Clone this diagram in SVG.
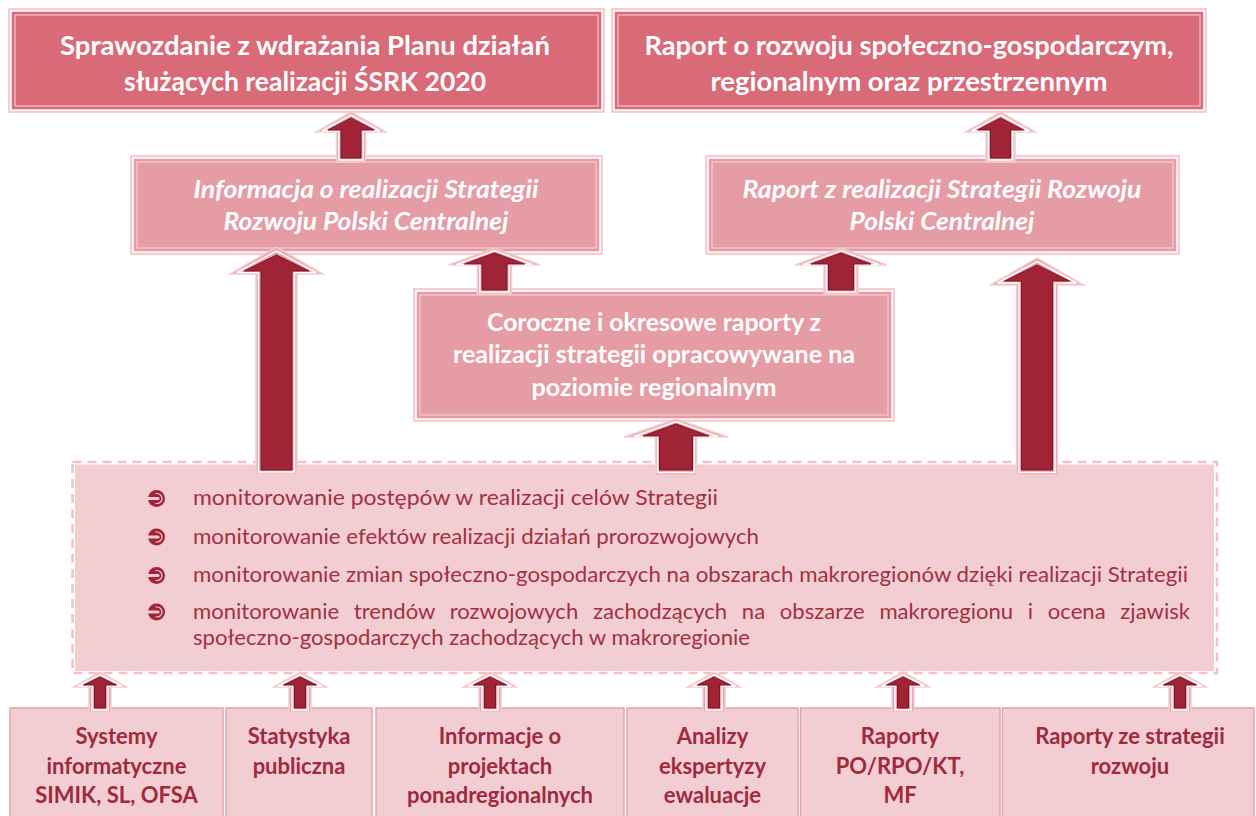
<svg xmlns="http://www.w3.org/2000/svg" xmlns:xlink="http://www.w3.org/1999/xlink" width="1256" height="816" viewBox="0 0 1256 816">
<style>
.fr{fill:#F5CDD2}
.tb{fill:#D96B79;stroke:#fff;stroke-width:1.5}
.mb{fill:#E59CA5;stroke:#fff;stroke-width:1.5}
.in{fill:none;stroke:#F7D5D9;stroke-width:1}
.bb{fill:#F2CED3;stroke:#E6A2AB;stroke-width:1.5}
.o{fill:#E9A3AC;stroke:#F4CDD2;stroke-width:1.5}
.m{fill:none;stroke:#fff;stroke-width:1.5}
.d{fill:#A02436;stroke:#7B1526;stroke-width:1}
text{font-family:Lato,"Open Sans","Liberation Sans",sans-serif}
.t1{font-size:27px;font-weight:bold;fill:#fff;text-anchor:middle}
.t2{font-size:24px;font-weight:bold;font-style:italic;fill:#fff;text-anchor:middle}
.t3{font-size:24px;font-weight:bold;fill:#fff;text-anchor:middle}
.bl{font-size:22px;fill:#A3303F}
.bt{font-size:22px;font-weight:bold;fill:#A02A3B;text-anchor:middle}
</style>
<defs>
<g id="sa">
<polygon class="o" points="0,672 26.5,687 11,687 11,712 -11,712 -11,687 -26.5,687"/>
<polygon class="m" points="0,674.5 21.5,686 8,686 8,710 -8,710 -8,686 -21.5,686"/>
<polygon class="d" points="0,677 16.5,685 5.5,685 5.5,708 -5.5,708 -5.5,685 -16.5,685"/>
</g>
<g id="bul">
<circle cx="0" cy="0" r="8.5" fill="#A02436"/>
<path d="M-9,-1.6 H1.5 A1.6 1.6 0 0 1 1.5,1.6 H-9 Z" fill="#F2CED3"/>
<path d="M-1,-5 H0.5 A5 5 0 0 1 0.5,5 H-1" fill="none" stroke="#F2CED3" stroke-width="1.2"/>
</g>
</defs>
<rect width="1256" height="816" fill="#fff"/>

<g id="node-sprawozdanie">
<rect class="fr" x="8" y="8" width="597" height="105"/>
<rect class="tb" x="11" y="11" width="591" height="99"/>
<rect class="in" x="15" y="15" width="583" height="91"/>
<text class="t1" x="305" y="55" textLength="490" lengthAdjust="spacingAndGlyphs">Sprawozdanie z wdrażania Planu działań</text>
<text class="t1" x="305" y="91" textLength="362" lengthAdjust="spacingAndGlyphs">służących realizacji ŚSRK 2020</text>
</g>

<g id="node-raport-rozwoj">
<rect class="fr" x="611" y="8" width="596" height="105"/>
<rect class="tb" x="614" y="11" width="590" height="99"/>
<rect class="in" x="618" y="15" width="582" height="91"/>
<text class="t1" x="909" y="55" textLength="529" lengthAdjust="spacingAndGlyphs">Raport o rozwoju społeczno-gospodarczym,</text>
<text class="t1" x="909" y="91" textLength="397" lengthAdjust="spacingAndGlyphs">regionalnym oraz przestrzennym</text>
</g>

<g id="node-informacja">
<rect class="fr" x="130" y="155" width="473" height="100"/>
<rect class="mb" x="133" y="158" width="467" height="94"/>
<rect class="in" x="137" y="162" width="459" height="86"/>
<text class="t2" x="366" y="198" textLength="345" lengthAdjust="spacingAndGlyphs">Informacja o realizacji Strategii</text>
<text class="t2" x="366" y="230" textLength="285" lengthAdjust="spacingAndGlyphs">Rozwoju Polski Centralnej</text>
</g>

<g id="node-raport-realizacja">
<rect class="fr" x="705" y="155" width="475" height="100"/>
<rect class="mb" x="708" y="158" width="469" height="94"/>
<rect class="in" x="712" y="162" width="461" height="86"/>
<text class="t2" x="942" y="198" textLength="399" lengthAdjust="spacingAndGlyphs">Raport z realizacji Strategii Rozwoju</text>
<text class="t2" x="942" y="230" textLength="185" lengthAdjust="spacingAndGlyphs">Polski Centralnej</text>
</g>

<g id="node-coroczne">
<rect class="fr" x="413" y="288" width="482" height="134"/>
<rect class="mb" x="416" y="291" width="476" height="128"/>
<rect class="in" x="420" y="295" width="468" height="120"/>
<text class="t3" x="654" y="331" textLength="334" lengthAdjust="spacingAndGlyphs">Coroczne i okresowe raporty z</text>
<text class="t3" x="654" y="363" textLength="402" lengthAdjust="spacingAndGlyphs">realizacji strategii opracowywane na</text>
<text class="t3" x="654" y="396" textLength="245" lengthAdjust="spacingAndGlyphs">poziomie regionalnym</text>
</g>

<g id="node-monitorowanie">
<rect x="75" y="464.5" width="1139" height="206.5" fill="#F2CED3"/>
<rect x="72.5" y="462" width="1144.5" height="211" fill="none" stroke="#F0C3C9" stroke-width="2.5" stroke-dasharray="9 6"/>
<use href="#bul" x="156.5" y="498.5"/>
<use href="#bul" x="156.5" y="537"/>
<use href="#bul" x="156.5" y="575.5"/>
<use href="#bul" x="156.5" y="612"/>
<text class="bl" x="193" y="505" textLength="525" lengthAdjust="spacingAndGlyphs">monitorowanie postępów w realizacji celów Strategii</text>
<text class="bl" x="193" y="543.5" textLength="566" lengthAdjust="spacingAndGlyphs">monitorowanie efektów realizacji działań prorozwojowych</text>
<text class="bl" x="193" y="582" textLength="995" lengthAdjust="spacingAndGlyphs">monitorowanie zmian społeczno-gospodarczych na obszarach makroregionów dzięki realizacji Strategii</text>
<text class="bl" x="193" y="618.5" textLength="997" lengthAdjust="spacingAndGlyphs" style="word-spacing:9px">monitorowanie trendów rozwojowych zachodzących na obszarze makroregionu i ocena zjawisk</text>
<text class="bl" x="193" y="645" textLength="557" lengthAdjust="spacingAndGlyphs">społeczno-gospodarczych zachodzących w makroregionie</text>
</g>

<g id="node-systemy">
<rect class="bb" x="10" y="708" width="213" height="122"/>
<text class="bt" x="116.5" y="744">Systemy</text>
<text class="bt" x="116.5" y="774">informatyczne</text>
<text class="bt" x="116.5" y="803">SIMIK, SL, OFSA</text>
</g>
<g id="node-statystyka">
<rect class="bb" x="226" y="708" width="146" height="122"/>
<text class="bt" x="299" y="744">Statystyka</text>
<text class="bt" x="299" y="774">publiczna</text>
</g>
<g id="node-informacje">
<rect class="bb" x="376" y="708" width="248" height="122"/>
<text class="bt" x="500" y="744">Informacje o</text>
<text class="bt" x="500" y="774">projektach</text>
<text class="bt" x="500" y="803">ponadregionalnych</text>
</g>
<g id="node-analizy">
<rect class="bb" x="627" y="708" width="171" height="122"/>
<text class="bt" x="712.5" y="744">Analizy</text>
<text class="bt" x="712.5" y="774">ekspertyzy</text>
<text class="bt" x="712.5" y="803">ewaluacje</text>
</g>
<g id="node-raporty-po">
<rect class="bb" x="800.5" y="708" width="199.5" height="122"/>
<text class="bt" x="900" y="744">Raporty</text>
<text class="bt" x="900" y="774">PO/RPO/KT,</text>
<text class="bt" x="900" y="803">MF</text>
</g>
<g id="node-raporty-strategii">
<rect class="bb" x="1002.5" y="708" width="251.5" height="122"/>
<text class="bt" x="1130" y="744">Raporty ze strategii</text>
<text class="bt" x="1130" y="774">rozwoju</text>
</g>

<g id="connectors">
<g id="a1">
<polygon class="o" points="351,112 386,132 365.5,132 365.5,162 336.5,162 336.5,132 316,132"/>
<polygon class="m" points="351,115 380,131 363.2,131 363.2,160 338.8,160 338.8,131 322,131"/>
<polygon class="d" points="351,118 374,130 361,130 361,158 341,158 341,130 328,130"/>
</g>
<g id="a2">
<polygon class="o" points="1000.5,112 1035.5,132 1015,132 1015,162 986,162 986,132 965.5,132"/>
<polygon class="m" points="1000.5,115 1029.5,131 1012.7,131 1012.7,160 988.3,160 988.3,131 971.5,131"/>
<polygon class="d" points="1000.5,118 1023.5,130 1010.5,130 1010.5,158 990.5,158 990.5,130 977.5,130"/>
</g>
<g id="a3">
<polygon class="o" points="494.5,248 540.5,265 511.5,265 511.5,294 477.5,294 477.5,265 448.5,265"/>
<polygon class="m" points="494.5,250.5 532.5,264.5 509.2,264.5 509.2,292 479.8,292 479.8,264.5 456.5,264.5"/>
<polygon class="d" points="494.5,253 524.5,264 507,264 507,290 482,290 482,264 464.5,264"/>
</g>
<g id="a4">
<polygon class="o" points="841,248 887,265 858,265 858,294 824,294 824,265 795,265"/>
<polygon class="m" points="841,250.5 879,264.5 855.7,264.5 855.7,292 826.3,292 826.3,264.5 803,264.5"/>
<polygon class="d" points="841,253 871,264 853.5,264 853.5,290 828.5,290 828.5,264 811,264"/>
</g>
<g id="a5">
<polygon class="o" points="676,419 728,437 696.5,437 696.5,475 655.5,475 655.5,437 624,437"/>
<polygon class="m" points="676,421.5 718,436.5 694.5,436.5 694.5,472.5 657.5,472.5 657.5,436.5 634,436.5"/>
<polygon class="d" points="676,424 709,436 692.5,436 692.5,470 659.5,470 659.5,436 643,436"/>
</g>
<g id="a6">
<polygon class="o" points="276.5,247 323,274 297,274 297,474 256,474 256,274 230,274"/>
<polygon class="m" points="276.5,251 316,272.5 294.5,272.5 294.5,472 258.5,472 258.5,272.5 237,272.5"/>
<polygon class="d" points="276.5,255 309,271 292,271 292,470 261,470 261,271 244,271"/>
</g>
<g id="a7">
<polygon class="o" points="1037,258 1083.5,285 1057.5,285 1057.5,475 1016.5,475 1016.5,285 990.5,285"/>
<polygon class="m" points="1037,261.5 1076.5,283 1055,283 1055,472.5 1019,472.5 1019,283 997.5,283"/>
<polygon class="d" points="1037,265 1069.5,281 1052.5,281 1052.5,470 1021.5,470 1021.5,281 1004.5,281"/>
</g>
<use href="#sa" x="100"/>
<use href="#sa" x="300"/>
<use href="#sa" x="490"/>
<use href="#sa" x="714"/>
<use href="#sa" x="903"/>
<use href="#sa" x="1180"/>
</g>
</svg>
